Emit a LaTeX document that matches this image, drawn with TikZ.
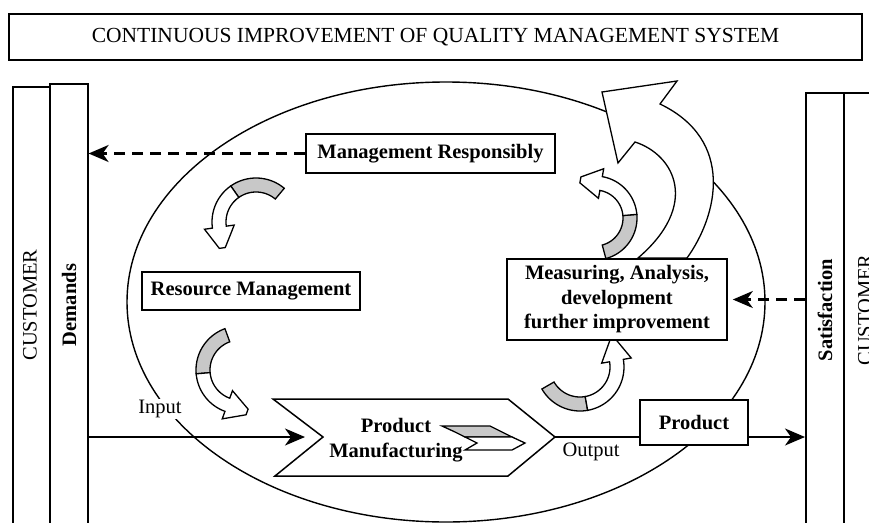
\documentclass[tikz,border=0pt]{standalone}
\usepackage{fontspec}
\setmainfont{Liberation Serif}
\usetikzlibrary{arrows.meta}
\definecolor{argrey}{RGB}{200,200,200}
\newcommand\qmsreg{\fontsize{20.5}{24.5}\selectfont}
\newcommand\qmsbold{\fontsize{20.5}{24.5}\selectfont\bfseries}
% curved 3D-like arrow: centre x, centre y, radius, tail angle, grey end angle, head base angle
\newcommand\qmsArrow[6]{%
  \filldraw[arw, fill=argrey]
    plot[domain=#4:#5, samples=24] ({#1+(#3+7)*cos(\x)},{#2+(#3+7)*sin(\x)})
    -- plot[domain=#5:#4, samples=24] ({#1+(#3-7)*cos(\x)},{#2+(#3-7)*sin(\x)}) -- cycle;
  \filldraw[arw, fill=white]
    plot[domain=#5:#6, samples=24] ({#1+(#3+7)*cos(\x)},{#2+(#3+7)*sin(\x)})
    -- ({#1+(#3+15)*cos(#6)},{#2+(#3+15)*sin(#6)})
    -- ({#1+(#3+3)*cos(#6)+21*sin(#6)},{#2+(#3+3)*sin(#6)-21*cos(#6)})
    -- ({#1+(#3-3)*cos(#6)+21*sin(#6)},{#2+(#3-3)*sin(#6)-21*cos(#6)})
    -- ({#1+(#3-15)*cos(#6)},{#2+(#3-15)*sin(#6)})
    -- plot[domain=#6:#5, samples=24] ({#1+(#3-7)*cos(\x)},{#2+(#3-7)*sin(\x)}) -- cycle;
}
\begin{document}
\begin{tikzpicture}[x=1pt,y=-1pt,
  box/.style={draw, line width=1.6pt, fill=white, inner sep=0pt, align=center},
  col/.style={draw, line width=1.6pt, fill=white, anchor=north west, inner sep=0pt, minimum height=450pt},
  arw/.style={line width=1.3pt, line join=miter},
  flow/.style={line width=1.5pt},
  tipA/.style={-{Stealth[length=20pt,width=17pt,inset=6pt]}},
  dashln/.style={line width=2.2pt, dash pattern=on 11pt off 7pt}]
\useasboundingbox (0,0) rectangle (869,522);
\clip (0,0) rectangle (869,522);

% big ellipse
\draw[line width=1.4pt] (446,302) ellipse [x radius=319, y radius=220];

% side columns
\node[col, minimum width=37pt] (custL) at (12,86) {};
\node[col, minimum width=38pt] (dem) at (49,83) {};
\node[col, minimum width=38pt] (sat) at (805,92) {};
\node[col, minimum width=45pt] (custR) at (843,92) {};
\node[rotate=90, font=\qmsreg] (custLt) at (30,305) {CUSTOMER};
\node[rotate=90, font=\qmsbold] (demt) at (69,305) {Demands};
\node[rotate=90, font=\qmsbold] (satt) at (825,310) {Satisfaction};
\node[rotate=90, font=\qmsreg] (custRt) at (865,310) {CUSTOMER};

% title
\node[box, minimum width=853pt, minimum height=46pt, font=\fontsize{21.5}{24}\selectfont] (title) at (435.5,37) {CONTINUOUS IMPROVEMENT OF QUALITY MANAGEMENT SYSTEM};

% big white curved arrow
\draw[arw, fill=white] (687,258) .. controls (718,215) and (735,140) .. (660,104)
  -- (677,81) -- (602,92) -- (618,163) -- (635,142)
  .. controls (675,155) and (700,205) .. (638,258) -- cycle;

% small curved arrows
\qmsArrow{256}{222}{37}{-50}{-125}{-188}
\qmsArrow{240}{370}{37}{-110}{-185}{-250}
\qmsArrow{580}{367}{37}{150}{80}{-10}
\qmsArrow{595}{218}{35}{75}{-5}{-80}

% boxes
\node[box, minimum width=249pt, minimum height=39pt, font=\qmsbold] (mgmt) at (430.5,153.5) {Management Responsibly};
\node[box, minimum width=218pt, minimum height=38pt, font=\qmsbold] (res) at (251,291) {Resource Management};
\node[box, minimum width=220pt, minimum height=81pt, font=\qmsbold] (meas) at (617,299.5) {Measuring, Analysis,\\development\\further improvement};
\node[box, minimum width=108pt, minimum height=45pt, font=\qmsbold] (prod) at (694,422.5) {Product};

% product manufacturing chevron
\coordinate (notch) at (323,437);
\coordinate (ctip) at (555,437);
\draw[line width=1.5pt, fill=white] (273,399) -- (508,399) -- (ctip) -- (508,476) -- (275,476) -- (notch) -- cycle;
\filldraw[arw, fill=argrey] (442,426) -- (490,426) -- (512,437) -- (465,437) -- (455,432) -- cycle;
\filldraw[arw, fill=white] (465,437) -- (512,437) -- (525,443) -- (512,450) -- (465,450) -- (477,443) -- cycle;
\node[font=\qmsbold, align=center] (pm) at (396,440) {Product\\Manufacturing};

% labels
\node[fill=white, inner sep=1pt, font=\qmsreg] (inlbl) at (160,409) {Input};
\node[font=\qmsreg] (outlbl) at (591,452) {Output};

% connectors
\draw[flow, tipA] (dem.east |- notch) -- ([xshift=-18pt]notch);
\draw[flow] (ctip) -- (prod.west |- ctip);
\draw[flow, tipA] (prod.east |- ctip) -- (sat.west |- ctip);
\draw[dashln, tipA] (mgmt.west) -- (mgmt.west -| dem.east);
\draw[dashln, tipA, shorten >=5pt] (sat.west |- meas.east) -- (meas.east);
\end{tikzpicture}
\end{document}
